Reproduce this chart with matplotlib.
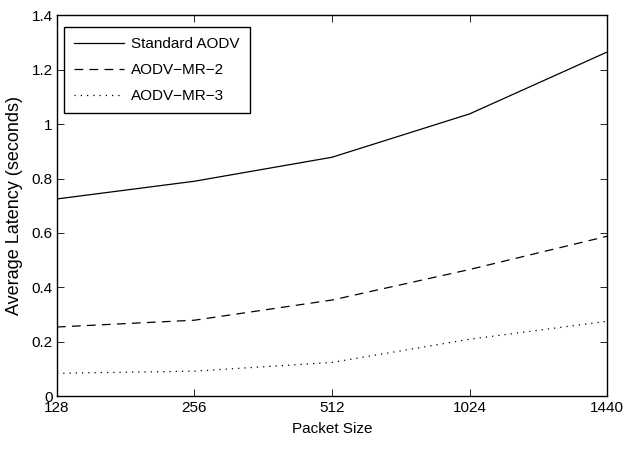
import matplotlib
matplotlib.use("Agg")
import matplotlib.pyplot as plt
from matplotlib import font_manager
import numpy as np

# data
packet_sizes = ['128', '256', '512', '1024', '1440']
standard_aodv = [0.725, 0.79, 0.878, 1.037, 1.264]
aodv_mr_2 = [0.255, 0.28, 0.354, 0.466, 0.588]
aodv_mr_3 = [0.085, 0.093, 0.125, 0.21, 0.276]

plt.rcParams['font.family'] = ['Liberation Sans', 'DejaVu Sans']

# narrow face for ticks / legend if one is installed
names = set(f.name for f in font_manager.fontManager.ttflist)
narrow = 'Liberation Sans Narrow' if 'Liberation Sans Narrow' in names else 'Liberation Sans'
small = 13 if narrow != 'Liberation Sans' else 11

fig = plt.figure(figsize=(6.24, 4.55), dpi=100)
ax = fig.add_axes([0.0913, 0.1286, 0.8815, 0.8384])

x = np.arange(len(packet_sizes))
ax.plot(x, standard_aodv, color='k', linestyle='-', linewidth=0.9, label='Standard AODV')
ax.plot(x, aodv_mr_2, color='k', linestyle=(0, (7, 5)), linewidth=0.9, label='AODV\u2212MR\u22122')
ax.plot(x, aodv_mr_3, color='k', linestyle=(0, (1, 4)), linewidth=0.9, label='AODV\u2212MR\u22123')

ax.set_xlim(0, len(packet_sizes) - 1)
ax.set_ylim(0, 1.4)
ax.set_xticks(x)
ax.set_xticklabels(packet_sizes, family=narrow, fontsize=small)
ax.set_yticks(np.arange(0, 1.41, 0.2))
ax.set_yticklabels(['0', '0.2', '0.4', '0.6', '0.8', '1', '1.2', '1.4'], family=narrow, fontsize=small)
ax.tick_params(direction='in', top=True, right=True, length=5, width=0.6, pad=3)
for s in ax.spines.values():
    s.set_linewidth(1.0)

ax.set_xlabel('Packet Size', family=narrow, fontsize=small, labelpad=5)
ax.set_ylabel('Average Latency (seconds)', fontsize=13, labelpad=6)

leg = ax.legend(loc='upper left', bbox_to_anchor=(7 / 550, 1 - 12 / 381.5),
                borderaxespad=0, prop={'family': narrow, 'size': small},
                fancybox=False, framealpha=1, edgecolor='k',
                handlelength=3.3, handletextpad=0.45, borderpad=0.65, labelspacing=0.8)
leg.get_frame().set_linewidth(1.0)

fig.savefig('out.png', dpi=100)
